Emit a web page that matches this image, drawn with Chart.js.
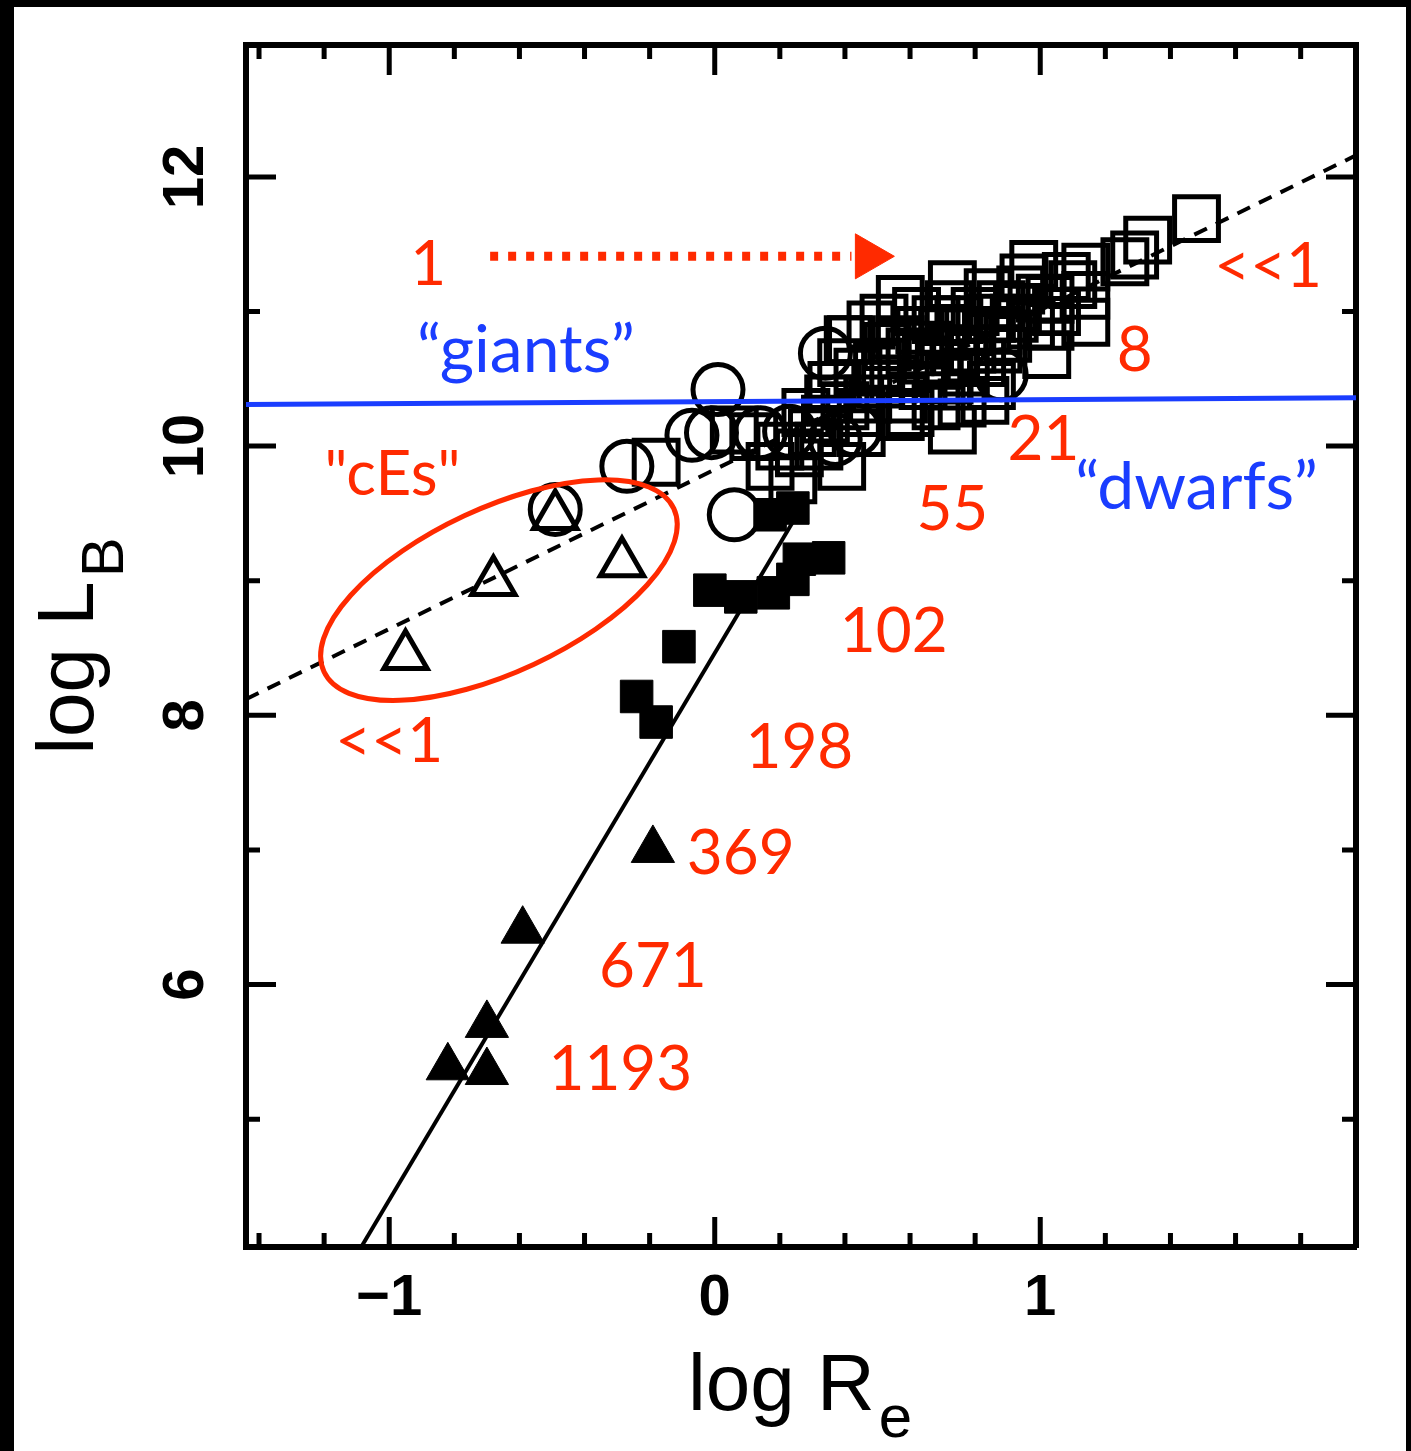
<!DOCTYPE html>
<html>
<head>
<meta charset="utf-8">
<script src="https://cdn.jsdelivr.net/npm/chart.js@4.4.1/dist/chart.umd.min.js"></script>
<style>
  html, body { margin: 0; padding: 0; background: #000; }
  body { width: 1411px; height: 1451px; position: relative; overflow: hidden; }
  #chart { position: absolute; left: 14px; top: 7px; background: #fff; }
</style>
</head>
<body>
<canvas id="chart" width="1392" height="1444"></canvas>
<script>
// axis ranges (log R_e, log L_B)
const xMin = -1.44, xMax = 1.97;
const yMin = 4.05, yMax = 12.98;
const xLabelValues = [-1, 0, 1];
const xTickLabels = ['\u22121', '0', '1'];
const yLabelValues = [6, 8, 10, 12];

// [log R_e, log L_B]
const openSquares = [
  [1.48, 11.69], [1.33, 11.53], [1.29, 11.42], [1.26, 11.37], [1.14, 11.33], [0.98, 11.35],
  [1.14, 11.12], [1.14, 10.92], [1.02, 10.68], [1.03, 10.89], [0.73, 11.20], [0.73, 10.12],
  [0.57, 10.22], [0.83, 10.34], [0.53, 10.74], [0.41, 10.79], [0.68, 10.94], [0.84, 11.14],
  [0.93, 11.03], [1.08, 11.26], [0.79, 10.72], [0.65, 10.64], [0.34, 10.20], [0.45, 10.10],
  [0.32, 10.00], [0.39, 9.85], [0.06, 10.12], [0.12, 10.07], [0.17, 9.85], [0.24, 9.75],
  [0.39, 10.62], [0.42, 10.79], [-0.18, 9.88], [0.30, 10.10], [0.57, 11.09], [0.63, 10.86],
  [0.75, 10.94], [0.87, 10.86], [0.94, 11.16], [0.72, 10.49], [0.51, 10.46], [1.03, 11.09],
  [0.87, 10.72], [0.57, 10.79], [0.76, 10.32],
  [0.36, 10.45], [0.40, 10.30], [0.44, 10.55], [0.47, 10.35], [0.50, 10.60], [0.52, 10.95],
  [0.55, 10.50], [0.58, 10.35], [0.60, 10.70], [0.62, 11.00], [0.64, 10.45], [0.66, 10.75],
  [0.69, 10.60], [0.70, 10.85], [0.72, 11.05], [0.74, 10.70], [0.77, 10.55], [0.78, 10.85],
  [0.80, 11.00], [0.82, 10.62], [0.85, 10.95], [0.88, 11.05], [0.90, 10.80], [0.92, 10.95],
  [0.95, 11.25], [0.97, 10.90], [1.00, 11.10], [1.05, 11.00], [1.10, 11.20], [0.45, 10.25],
  [0.35, 10.35], [0.28, 10.25], [0.48, 10.90], [0.60, 10.25], [0.68, 10.30], [0.26, 9.95],
  [0.20, 10.00], [0.85, 10.45]
];
const openCircles = [
  [-0.49, 9.53], [-0.27, 9.85], [0.06, 9.49], [0.01, 10.42], [-0.07, 10.08], [-0.01, 10.10],
  [0.34, 10.69], [0.88, 10.53], [0.14, 10.10], [0.23, 10.11], [0.37, 10.05], [0.43, 10.12]
];
const openTriangles = [[-0.95, 8.44], [-0.68, 8.99], [-0.49, 9.48], [-0.285, 9.13]];
const filledSquares = [
  [-0.11, 8.51], [-0.24, 8.14], [-0.18, 7.95], [-0.015, 8.93], [0.08, 8.88], [0.18, 8.91],
  [0.24, 9.01], [0.26, 9.16], [0.35, 9.17], [0.17, 9.49], [0.24, 9.54]
];
const filledTriangles = [[-0.82, 5.385], [-0.70, 5.35], [-0.70, 5.70], [-0.59, 6.40], [-0.19, 7.00]];

// lines
const dashedFit = [[-1.44, 8.12], [1.97, 12.16]];
const solidFit = [[-1.086, 4.05], [0.28, 9.60]];
const dividerLine = [[-1.44, 10.31], [1.97, 10.36]];
const arrowShaft = [[-0.69, 11.41], [0.42, 11.41]];
const arrowHead = [[0.472, 11.41]];
const cesRing = [-0.663, 8.93];

// annotations: text, x, y (baseline)
const redNotes = [
  ['1', -0.88, 11.20], ['<<1', 1.70, 11.18], ['8', 1.29, 10.56], ['21', 1.01, 9.90],
  ['55', 0.73, 9.38], ['102', 0.55, 8.47], ['198', 0.26, 7.61], ['369', 0.08, 6.82],
  ['671', -0.19, 5.98], ['1193', -0.29, 5.22], ['<<1', -1.00, 7.65], ['"cEs"', -0.99, 9.64]
];
const blueNotes = [['\u201cgiants\u201d', -0.58, 10.55], ['\u201cdwarfs\u201d', 1.48, 9.53]];

const RED = '#ff2a00';
const BLUE = '#1a3dff';

const pts = arr => arr.map(([x, y]) => ({x, y}));
const near = (a, b) => Math.abs(a - b) < 1e-6;

const innerTicks = {
  id: 'innerTicks',
  afterDatasetsDraw(chart) {
    const {ctx, chartArea: a, scales: {x, y}} = chart;
    ctx.save();
    ctx.strokeStyle = '#000';
    ctx.lineWidth = 5;
    ctx.beginPath();
    x.ticks.forEach(t => {
      const p = x.getPixelForValue(t.value);
      const len = xLabelValues.some(v => near(v, t.value)) ? 30 : 14;
      ctx.moveTo(p, a.bottom); ctx.lineTo(p, a.bottom - len);
      ctx.moveTo(p, a.top); ctx.lineTo(p, a.top + len);
    });
    y.ticks.forEach(t => {
      const p = y.getPixelForValue(t.value);
      const len = yLabelValues.some(v => near(v, t.value)) ? 30 : 14;
      ctx.moveTo(a.left, p); ctx.lineTo(a.left + len, p);
      ctx.moveTo(a.right, p); ctx.lineTo(a.right - len, p);
    });
    ctx.stroke();
    ctx.restore();
  }
};

const notes = {
  id: 'notes',
  afterDatasetsDraw(chart) {
    const {ctx, scales: {x, y}} = chart;
    ctx.save();
    ctx.strokeStyle = RED;
    ctx.lineWidth = 5;
    ctx.beginPath();
    ctx.ellipse(x.getPixelForValue(cesRing[0]), y.getPixelForValue(cesRing[1]), 193, 82, -25 * Math.PI / 180, 0, 2 * Math.PI);
    ctx.stroke();

    ctx.textAlign = 'center';
    ctx.textBaseline = 'alphabetic';
    ctx.font = '62px Lato';
    ctx.fillStyle = RED;
    redNotes.forEach(([t, vx, vy]) => ctx.fillText(t, x.getPixelForValue(vx), y.getPixelForValue(vy)));
    ctx.font = '66px Lato';
    ctx.fillStyle = BLUE;
    blueNotes.forEach(([t, vx, vy]) => ctx.fillText(t, x.getPixelForValue(vx), y.getPixelForValue(vy)));
    ctx.restore();
  }
};

function drawSub(ctx, main, sub, cx, base, drop) {
  ctx.font = '80px "Liberation Sans"';
  const w1 = ctx.measureText(main).width;
  ctx.font = '60px "Liberation Sans"';
  const w2 = ctx.measureText(sub).width;
  const x0 = cx - (w1 + 4 + w2) / 2;
  ctx.textAlign = 'left';
  ctx.font = '80px "Liberation Sans"';
  ctx.fillText(main, x0, base);
  ctx.font = '60px "Liberation Sans"';
  ctx.fillText(sub, x0 + w1 + 4, base + drop);
}

const axisTitles = {
  id: 'axisTitles',
  afterDraw(chart) {
    const {ctx, chartArea: a} = chart;
    ctx.save();
    ctx.fillStyle = '#000';
    ctx.textBaseline = 'alphabetic';
    drawSub(ctx, 'log R', 'e', 786, a.bottom + 163, 27);
    ctx.translate(a.left - 153, (a.top + a.bottom) / 2);
    ctx.rotate(-Math.PI / 2);
    drawSub(ctx, 'log L', 'B', 0, 0, 30);
    ctx.restore();
  }
};

const tickFont = {family: 'Liberation Sans', size: 58, weight: 'bold'};
const noPad = s => { s.paddingTop = 0; s.paddingBottom = 0; s.paddingLeft = 0; s.paddingRight = 0; };

new Chart(document.getElementById('chart'), {
  type: 'scatter',
  data: {
    datasets: [
      {type: 'line', data: pts(dividerLine), borderColor: BLUE, borderWidth: 5, pointRadius: 0, order: 0},
      {type: 'line', data: pts(arrowShaft), borderColor: RED, borderWidth: 9, borderDash: [8, 10], pointRadius: 0, order: 0},
      {data: pts(arrowHead), pointStyle: 'triangle', pointRotation: 90, pointRadius: 26,
        pointBackgroundColor: RED, pointBorderColor: RED, pointBorderWidth: 1, order: 0},
      {type: 'line', data: pts(dashedFit), borderColor: '#000', borderWidth: 4, borderDash: [14, 10], pointRadius: 0, order: 2},
      {type: 'line', data: pts(solidFit), borderColor: '#000', borderWidth: 4, pointRadius: 0, order: 2},
      {data: pts(openSquares), pointStyle: 'rect', pointRadius: 31, pointBorderColor: '#000',
        pointBorderWidth: 5, pointBackgroundColor: 'rgba(0,0,0,0)', order: 3},
      {data: pts(openCircles), pointStyle: 'circle', pointRadius: 25, pointBorderColor: '#000',
        pointBorderWidth: 5, pointBackgroundColor: 'rgba(0,0,0,0)', order: 3},
      {data: pts(openTriangles), pointStyle: 'triangle', pointRadius: 25, pointBorderColor: '#000',
        pointBorderWidth: 5, pointBackgroundColor: 'rgba(0,0,0,0)', order: 3},
      {data: pts(filledSquares), pointStyle: 'rect', pointRadius: 23, pointBorderColor: '#000',
        pointBorderWidth: 1, pointBackgroundColor: '#000', order: 3},
      {data: pts(filledTriangles), pointStyle: 'triangle', pointRadius: 25, pointBorderColor: '#000',
        pointBorderWidth: 1, pointBackgroundColor: '#000', order: 3}
    ]
  },
  options: {
    responsive: false,
    animation: false,
    events: [],
    layout: {padding: 0},
    plugins: {legend: {display: false}, tooltip: {enabled: false}},
    scales: {
      x: {
        type: 'linear', position: 'bottom', min: xMin, max: xMax,
        grid: {display: false, drawTicks: false},
        border: {color: '#000', width: 6},
        ticks: {
          stepSize: 0.2, includeBounds: false, autoSkip: false, minRotation: 0, maxRotation: 0,
          padding: 17, color: '#000', font: tickFont,
          callback: v => {
            const i = xLabelValues.findIndex(l => near(l, v));
            return i < 0 ? '' : xTickLabels[i];
          }
        },
        afterFit: s => { s.height = 204; noPad(s); }
      },
      y: {
        type: 'linear', position: 'left', min: yMin, max: yMax,
        grid: {display: false, drawTicks: false},
        border: {color: '#000', width: 6},
        ticks: {
          stepSize: 1, includeBounds: false, autoSkip: false, minRotation: 90, maxRotation: 90,
          crossAlign: 'center', padding: 27, color: '#000', font: tickFont,
          callback: v => yLabelValues.some(l => near(l, v)) ? String(v) : ''
        },
        afterFit: s => { s.width = 232; noPad(s); }
      },
      x2: {
        type: 'linear', position: 'top', min: xMin, max: xMax,
        grid: {display: false, drawTicks: false},
        border: {color: '#000', width: 6},
        ticks: {display: false},
        afterFit: s => { s.height = 38; noPad(s); }
      },
      y2: {
        type: 'linear', position: 'right', min: yMin, max: yMax,
        grid: {display: false, drawTicks: false},
        border: {color: '#000', width: 6},
        ticks: {display: false},
        afterFit: s => { s.width = 50; noPad(s); }
      }
    }
  },
  plugins: [innerTicks, notes, axisTitles]
});
</script>
</body>
</html>
